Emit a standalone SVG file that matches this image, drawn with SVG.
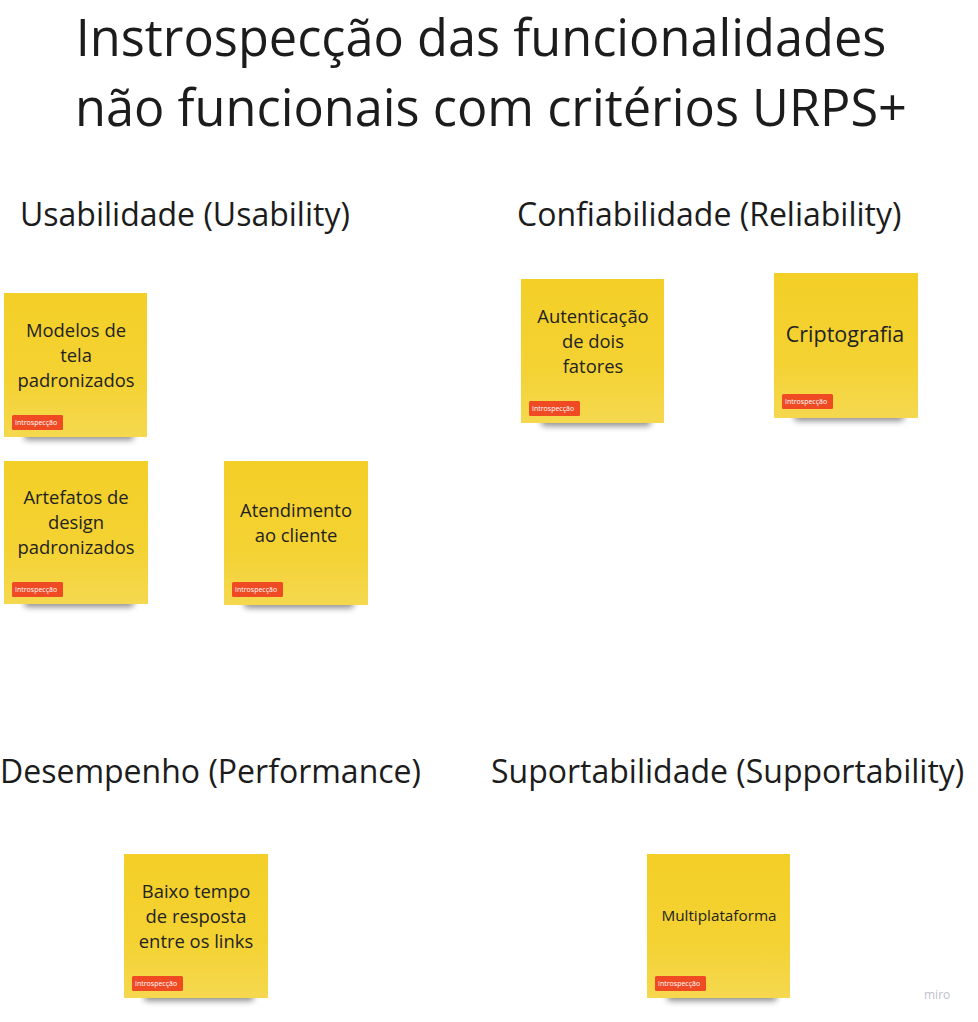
<svg xmlns="http://www.w3.org/2000/svg" width="978" height="1022" viewBox="0 0 978 1022">
<defs>
<linearGradient id="yel" x1="0" y1="0" x2="0" y2="1">
<stop offset="0" stop-color="#f3cf27"/>
<stop offset="0.6" stop-color="#f4d232"/>
<stop offset="1" stop-color="#f5d84f"/>
</linearGradient>
<filter id="sh" x="-20%" y="-200%" width="140%" height="500%">
<feGaussianBlur stdDeviation="3"/>
</filter>
</defs>
<style>
.title{font-family:"Open Sans","Liberation Sans",sans-serif;font-size:50.5px;fill:#1c1c1c;text-anchor:middle}
.head{font-family:"Open Sans","Liberation Sans",sans-serif;font-size:32px;fill:#1c1c1c}
.nt{font-family:"Open Sans","Liberation Sans",sans-serif;font-size:18.4px;fill:#222;text-anchor:middle}
.note{fill:url(#yel)}
.shadow{fill:#000;opacity:0.45;filter:url(#sh)}
.tag{fill:#f04a24}
.tt{font-family:"Open Sans","Liberation Sans",sans-serif;font-size:7px;fill:#fff}
</style>
<rect width="978" height="1022" fill="#ffffff"/>
<text class="title" x="481" y="56">Instrospecção das funcionalidades</text>
<text class="title" x="491" y="126">não funcionais com critérios URPS+</text>
<text class="head" x="20" y="226">Usabilidade (Usability)</text>
<text class="head" x="517" y="226">Confiabilidade (Reliability)</text>
<text class="head" x="0" y="783">Desempenho (Performance)</text>
<text class="head" x="491" y="783">Suportabilidade (Supportability)</text>

<g id="n-modelos">
<rect class="shadow" x="24" y="431" width="110" height="9" rx="4"/>
<rect class="note" x="4" y="293" width="143" height="144"/>
<text class="nt" x="76" y="337">Modelos de</text>
<text class="nt" x="76" y="362">tela</text>
<text class="nt" x="76" y="387">padronizados</text>
<rect class="tag" x="12" y="415" width="51" height="15" rx="1.5"/>
<text class="tt" x="15" y="425">Introspecção</text>
</g>

<g id="n-artefatos">
<rect class="shadow" x="24" y="598" width="110" height="9" rx="4"/>
<rect class="note" x="4" y="461" width="144" height="143"/>
<text class="nt" x="76" y="504">Artefatos de</text>
<text class="nt" x="76" y="529">design</text>
<text class="nt" x="76" y="554">padronizados</text>
<rect class="tag" x="12" y="582" width="51" height="15" rx="1.5"/>
<text class="tt" x="15" y="592">Introspecção</text>
</g>

<g id="n-atendimento">
<rect class="shadow" x="244" y="599" width="110" height="9" rx="4"/>
<rect class="note" x="224" y="461" width="144" height="144"/>
<text class="nt" x="296" y="517">Atendimento</text>
<text class="nt" x="296" y="542">ao cliente</text>
<rect class="tag" x="232" y="582" width="51" height="15" rx="1.5"/>
<text class="tt" x="235" y="592">Introspecção</text>
</g>

<g id="n-autenticacao">
<rect class="shadow" x="541" y="417" width="110" height="9" rx="4"/>
<rect class="note" x="521" y="279" width="143" height="144"/>
<text class="nt" x="593" y="323">Autenticação</text>
<text class="nt" x="593" y="348">de dois</text>
<text class="nt" x="593" y="373">fatores</text>
<rect class="tag" x="529" y="401" width="51" height="15" rx="1.5"/>
<text class="tt" x="532" y="411">Introspecção</text>
</g>

<g id="n-criptografia">
<rect class="shadow" x="794" y="412" width="110" height="9" rx="4"/>
<rect class="note" x="774" y="273" width="144" height="145"/>
<text class="nt" x="845" y="342" style="font-size:21.5px">Criptografia</text>
<rect class="tag" x="782" y="394" width="51" height="15" rx="1.5"/>
<text class="tt" x="785" y="404">Introspecção</text>
</g>

<g id="n-baixo">
<rect class="shadow" x="144" y="992" width="110" height="9" rx="4"/>
<rect class="note" x="124" y="854" width="144" height="144"/>
<text class="nt" x="196" y="898">Baixo tempo</text>
<text class="nt" x="196" y="923">de resposta</text>
<text class="nt" x="196" y="948">entre os links</text>
<rect class="tag" x="132" y="976" width="51" height="15" rx="1.5"/>
<text class="tt" x="135" y="986">Introspecção</text>
</g>

<g id="n-multi">
<rect class="shadow" x="667" y="992" width="110" height="9" rx="4"/>
<rect class="note" x="647" y="854" width="143" height="144"/>
<text class="nt" x="719" y="921" style="font-size:15.3px">Multiplataforma</text>
<rect class="tag" x="655" y="976" width="51" height="15" rx="1.5"/>
<text class="tt" x="658" y="986">Introspecção</text>
</g>

<g id="connectors"></g>
<text x="924" y="999" style="font-family:'Open Sans','Liberation Sans',sans-serif;font-size:12px;fill:#bfbfcc">miro</text>
</svg>
